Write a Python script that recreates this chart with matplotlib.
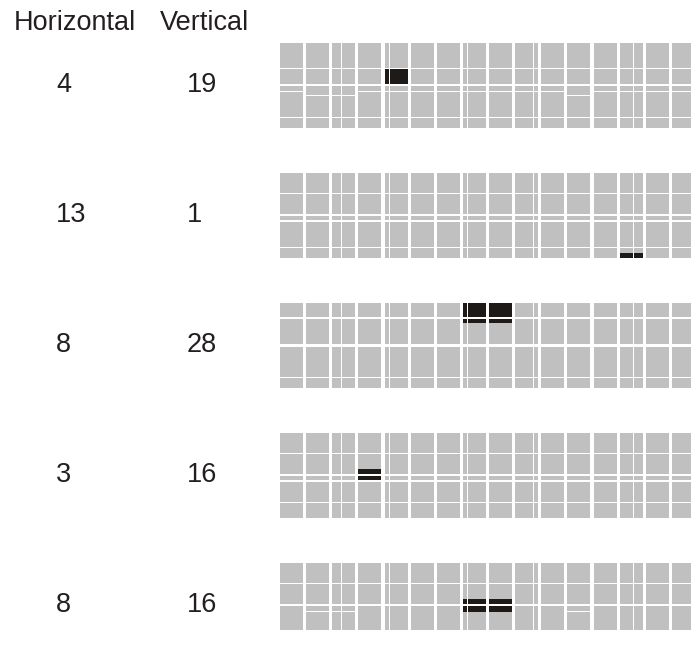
import matplotlib.pyplot as plt
from matplotlib.patches import Rectangle

plt.rcParams['font.family'] = ['Liberation Sans', 'DejaVu Sans']

# Values shown for each row
horizontal = [4, 13, 8, 3, 8]
vertical = [19, 1, 28, 16, 16]

# Highlighted cells per row: grid columns and the vertical span inside the block
highlight_cols = [[4], [13], [7, 8], [3], [7, 8]]
highlight_span = [(26, 41), (80, 85), (0, 20), (36, 48), (36, 49)]

# Grid structure: 16 columns, some split by a thin line
n_cols = 16
split_cols = [2, 4, 7, 9, 13]
split_offsets = [9, 4, 4, 18, 13]
special_cols = [1, 2, 11]

# Horizontal white lines of each block: (offset, thickness, which columns)
block_lines = [
    [(25, 1, 'all'), (41, 2, 'all'), (48, 1, 'normal'), (52, 1, 'special'), (74, 1, 'all')],
    [(20, 1, 'all'), (41, 2, 'all'), (47, 2, 'all'), (74, 1, 'all')],
    [(14, 2, 'all'), (41, 3, 'all'), (74, 1, 'all')],
    [(20, 1, 'all'), (41, 2, 'all'), (47, 2, 'all'), (69, 1, 'all')],
    [(20, 1, 'all'), (41, 2, 'all'), (48, 1, 'special')],
]
block_heights = [85, 85, 85, 85, 67]

W, H = 691, 647
gray = '#c0c0c0'
dark = '#1e1a17'
txt = '#231f20'
fs = 19.5

fig = plt.figure(figsize=(W / 100, H / 100), dpi=100)
ax = fig.add_axes([0, 0, 1, 1])
ax.set_xlim(0, W)
ax.set_ylim(H, 0)
ax.axis('off')

x0, pitch, cw = 280, 26.13, 23
top0, row_gap = 43, 130

ax.text(14, 30, 'Horizontal', fontsize=fs, color=txt, va='baseline', ha='left')
ax.text(160, 30, 'Vertical', fontsize=fs, color=txt, va='baseline', ha='left')

for r in range(len(horizontal)):
    top = top0 + r * row_gap
    bh = block_heights[r]
    ax.text(56, top + 49, str(horizontal[r]), fontsize=fs, color=txt, va='baseline', ha='left')
    ax.text(187, top + 49, str(vertical[r]), fontsize=fs, color=txt, va='baseline', ha='left')

    for c in range(n_cols):
        cx = round(x0 + c * pitch)
        ax.add_patch(Rectangle((cx, top), cw, bh, color=gray, lw=0, antialiased=False))
        if c in highlight_cols[r]:
            y1, y2 = highlight_span[r]
            ax.add_patch(Rectangle((cx, top + y1), cw, y2 - y1, color=dark, lw=0, antialiased=False))
        # horizontal white lines
        for off, th, kind in block_lines[r]:
            if kind == 'special' and c not in special_cols:
                continue
            if kind == 'normal' and c in special_cols:
                continue
            ax.add_patch(Rectangle((cx, top + off), cw, th, color='white', lw=0, antialiased=False))
        # thin vertical split
        if c in split_cols:
            sx = cx + split_offsets[split_cols.index(c)]
            ax.add_patch(Rectangle((sx, top), 1, bh, color='white', lw=0, antialiased=False))

fig.savefig('out.png', dpi=100)
